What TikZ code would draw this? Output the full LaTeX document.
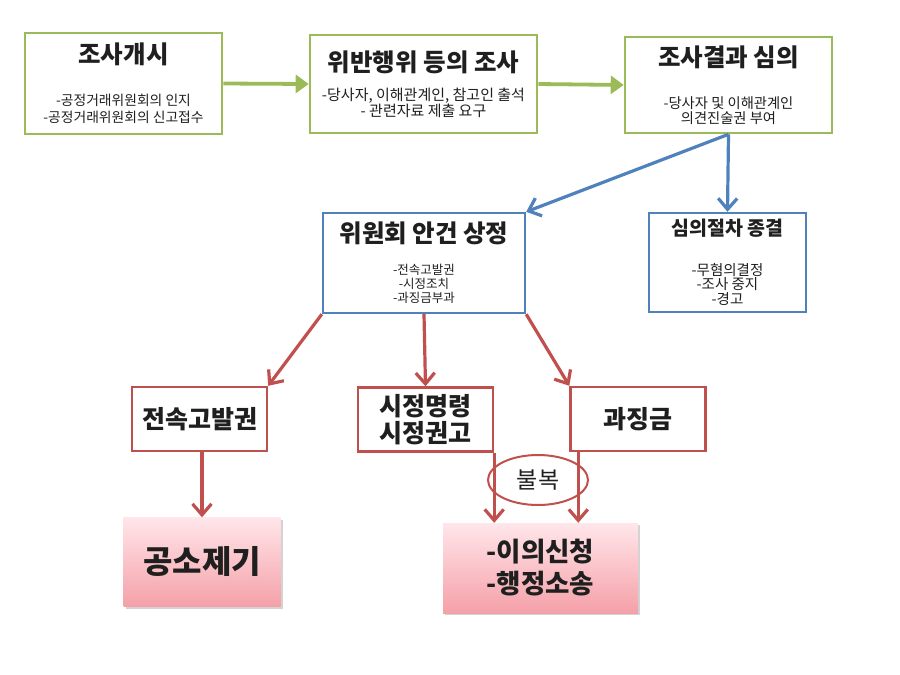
\documentclass[tikz,border=0pt]{standalone}
\usepackage{fontspec}
\setmainfont{Noto Sans CJK KR}
\usepackage{xcolor}
\usetikzlibrary{arrows.meta, positioning, calc, shapes.geometric, shadows}

\definecolor{grn}{RGB}{155,187,89}
\definecolor{blu}{RGB}{79,129,189}
\definecolor{rd}{RGB}{192,80,77}
\definecolor{pktop}{RGB}{255,230,234}
\definecolor{pkbot}{RGB}{245,160,168}

\newcommand{\ttl}[1]{{\fontsize{24.5}{28}\selectfont\bfseries #1}}

\begin{document}
\begin{tikzpicture}[%
  x=1pt, y=-1pt,
  every node/.style={align=center, text=black!88},
  gbox/.style={draw=grn, line width=2.6pt, fill=white},
  bbox/.style={draw=blu, line width=2.4pt, fill=white},
  rbox/.style={draw=rd, line width=2.4pt, fill=white, minimum width=135pt, minimum height=64pt, font=\fontsize{25}{27}\selectfont\bfseries},
  pbox/.style={top color=pktop, bottom color=pkbot, drop shadow={opacity=0.35, shadow xshift=2pt, shadow yshift=-2pt}, font=\bfseries},
  garr/.style={-{Triangle[length=13pt,width=18pt]}, line width=3.8pt, draw=grn},
  barr/.style={-{Straight Barb[length=11pt,width=19pt]}, line width=3.2pt, draw=blu},
  rarr/.style={-{Straight Barb[length=11pt,width=19pt]}, line width=3.2pt, draw=rd}
]
\useasboundingbox (0,0) rectangle (900,675);

% Investigation row
\node[gbox, minimum width=197pt, minimum height=101pt, font=\fontsize{13.8}{17}\selectfont] (start) at (123.5,83.5)
  {\ttl{조사개시}\\[25pt] -공정거래위원회의 인지\\ -공정거래위원회의 신고접수};
\node[gbox, minimum width=227pt, minimum height=98pt, font=\fontsize{15}{15}\selectfont] (probe) at (423.5,84)
  {\ttl{위반행위 등의 조사}\\[14pt] -당사자, 이해관계인, 참고인 출석\\ - 관련자료 제출 요구};
\node[gbox, minimum width=207pt, minimum height=96pt, font=\fontsize{14.3}{15}\selectfont] (review) at (728.5,85)
  {\ttl{조사결과 심의}\\[27pt] -당사자 및 이해관계인\\ 의견진술권 부여};
\draw[garr] (start.east) -- (probe.west);
\draw[garr] (probe.east) -- (review.west);

% Committee
\node[bbox, minimum width=202pt, minimum height=100pt, font=\fontsize{12.5}{14}\selectfont] (agenda) at (424,263)
  {\ttl{위원회 안건 상정}\\[18pt] -전속고발권\\ -시정조치\\ -과징금부과};
\node[bbox, minimum width=157pt, minimum height=99pt, font=\fontsize{14.5}{14.5}\selectfont] (close) at (727.5,262.5)
  {{\fontsize{19.5}{22}\selectfont\bfseries 심의절차 종결}\\[25pt] -무혐의결정\\ -조사 중지\\ -경고};
\draw[barr] (review.south) -- (agenda.north east);
\draw[barr] (review.south) -- (close.north);

% Measures
\node[rbox] (accuse) at (199.5,419) {전속고발권};
\node[rbox] (order) at (425.5,419.5) {시정명령\\시정권고};
\node[rbox] (fine) at (638,419) {과징금};
\draw[rarr] (agenda.south west) -- (accuse.north east);
\draw[rarr] (agenda.south) -- (order.north);
\draw[rarr] (agenda.south east) -- (fine.north west);

% Results
\node[pbox, minimum width=157pt, minimum height=89pt, font=\fontsize{32}{36}\selectfont\bfseries] (indict) at (202,562) {공소제기};
\node[pbox, minimum width=195pt, minimum height=90pt, font=\fontsize{26.5}{32}\selectfont\bfseries] (appeal) at (540.5,568) {-이의신청\\-행정소송};
\node[ellipse, draw=rd, line width=2pt, minimum width=100pt, minimum height=50pt, inner sep=0pt, font=\fontsize{23}{26}\selectfont] (object) at (538,480) {불복};
\draw[rarr] (accuse.south -| indict.north) -- (indict.north);
\draw[rarr] (order.south east) -- (order.south east |- appeal.north);
\draw[rarr] ($(fine.south west)+(9,0)$) -- ($(fine.south west |- appeal.north)+(9,0)$);
\end{tikzpicture}
\end{document}
